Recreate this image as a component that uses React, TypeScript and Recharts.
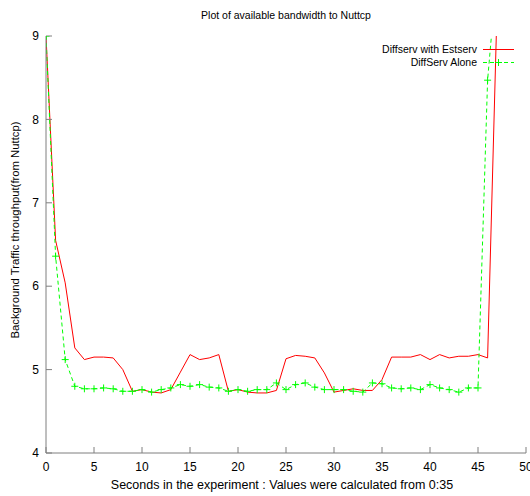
import React from 'react';
import { LineChart, Line, XAxis, YAxis } from 'recharts';

// seconds into the run
const seconds = [
  0, 1, 2, 3, 4, 5, 6, 7, 8, 9, 10, 11, 12, 13, 14, 15, 16, 17, 18, 19, 20, 21, 22, 23,
  24, 25, 26, 27, 28, 29, 30, 31, 32, 33, 34, 35, 36, 37, 38, 39, 40, 41, 42, 43, 44, 45, 46, 47,
];

// Diffserv with Estserv
const withEstserv = [
  9.0, 6.55, 6.04, 5.26, 5.12, 5.15, 5.15, 5.14, 5.0, 4.74, 4.76, 4.73, 4.72, 4.76, 4.97, 5.18,
  5.12, 5.14, 5.18, 4.74, 4.76, 4.73, 4.72, 4.72, 4.75, 5.13, 5.17, 5.16, 5.14, 4.96, 4.73, 4.75,
  4.77, 4.75, 4.75, 4.88, 5.15, 5.15, 5.15, 5.18, 5.12, 5.18, 5.14, 5.16, 5.16, 5.18, 5.14, 9.4,
];

// DiffServ Alone
const diffservAlone = [
  9.0, 6.36, 5.12, 4.8, 4.77, 4.77, 4.78, 4.77, 4.74, 4.74, 4.76, 4.73, 4.76, 4.78, 4.82, 4.8,
  4.82, 4.79, 4.78, 4.74, 4.76, 4.74, 4.76, 4.76, 4.84, 4.76, 4.82, 4.84, 4.79, 4.76, 4.76, 4.76,
  4.74, 4.73, 4.84, 4.83, 4.78, 4.77, 4.78, 4.76, 4.82, 4.78, 4.76, 4.73, 4.78, 4.78, 8.47, 9.8,
];

const xTicks = [0, 5, 10, 15, 20, 25, 30, 35, 40, 45, 50];
const yTicks = [4, 5, 6, 7, 8, 9];

const data = seconds.map((s, i) => ({ s, estserv: withEstserv[i], alone: diffservAlone[i] }));

const FONT = '"Liberation Sans", Arial, sans-serif';
const AXIS = '#7f7f7f';
const RED = '#ff0000';
const GREEN = '#00ff00';

function PlusDot(props: any) {
  const { cx, cy, index } = props;
  if (cx == null || cy == null) return <g key={`p-${index}`} />;
  return (
    <path
      key={`p-${index}`}
      d={`M${cx - 3.5},${cy}H${cx + 3.5}M${cx},${cy - 3.5}V${cy + 3.5}`}
      stroke={GREEN}
      strokeWidth={1}
      fill="none"
    />
  );
}

const tickStyle = { fill: '#000', fontSize: 12, fontFamily: FONT };

export default function App() {
  return (
    <div style={{ position: 'absolute', left: 0, top: 0, width: 530, height: 496, fontFamily: FONT }}>
      <LineChart width={530} height={496} data={data} margin={{ top: 36, right: 4, bottom: 13, left: 16 }}>
        <XAxis
          xAxisId="b"
          dataKey="s"
          type="number"
          domain={[0, 50]}
          ticks={xTicks}
          interval={0}
          height={30}
          tickSize={-6}
          tickMargin={15}
          stroke={AXIS}
          tick={tickStyle}
          allowDataOverflow
        />
        <XAxis
          xAxisId="t"
          dataKey="s"
          type="number"
          orientation="top"
          domain={[0, 50]}
          ticks={xTicks}
          interval={0}
          height={0}
          tickSize={-6}
          stroke={AXIS}
          tick={false}
          allowDataOverflow
        />
        <YAxis
          yAxisId="l"
          type="number"
          domain={[4, 9]}
          ticks={yTicks}
          interval={0}
          width={30}
          tickSize={-6}
          tickMargin={13}
          stroke={AXIS}
          tick={tickStyle}
          allowDataOverflow
        />
        <YAxis
          yAxisId="r"
          type="number"
          orientation="right"
          domain={[4, 9]}
          ticks={yTicks}
          interval={0}
          width={0}
          tickSize={-6}
          stroke={AXIS}
          tick={false}
          allowDataOverflow
        />
        <Line
          xAxisId="b"
          yAxisId="l"
          dataKey="estserv"
          stroke={RED}
          strokeWidth={1}
          dot={false}
          activeDot={false}
          type="linear"
          isAnimationActive={false}
        />
        <Line
          xAxisId="b"
          yAxisId="l"
          dataKey="alone"
          stroke={GREEN}
          strokeWidth={1}
          strokeDasharray="4 3"
          dot={PlusDot}
          activeDot={false}
          type="linear"
          isAnimationActive={false}
        />
      </LineChart>

      <div style={{ position: 'absolute', left: 46, width: 480, top: 9, textAlign: 'center', fontSize: 10.5, color: '#000' }}>
        Plot of available bandwidth to Nuttcp
      </div>
      <div style={{ position: 'absolute', left: 42, width: 480, top: 478, textAlign: 'center', fontSize: 12.5, color: '#000' }}>
        Seconds in the experiment : Values were calculated from 0:35
      </div>
      <div
        style={{
          position: 'absolute',
          left: 15,
          top: 230,
          transform: 'translate(-50%, -50%) rotate(-90deg)',
          whiteSpace: 'nowrap',
          fontSize: 11.3,
          color: '#000',
        }}
      >
        Background Traffic throughput(from Nuttcp)
      </div>

      <div style={{ position: 'absolute', top: 43, right: 15, fontSize: 10.5, color: '#000' }}>
        {[
          { name: 'Diffserv with Estserv', color: RED, dash: undefined, plus: false },
          { name: 'DiffServ Alone', color: GREEN, dash: '4 3', plus: true },
        ].map((item) => (
          <div key={item.name} style={{ display: 'flex', alignItems: 'center', justifyContent: 'flex-end', height: 13 }}>
            <span style={{ marginRight: 6, lineHeight: '13px' }}>{item.name}</span>
            <svg width={32} height={9}>
              <line x1={0} y1={4.5} x2={31} y2={4.5} stroke={item.color} strokeDasharray={item.dash} />
              {item.plus && <path d="M12,4.5H19M15.5,1V8" stroke={item.color} />}
            </svg>
          </div>
        ))}
      </div>
    </div>
  );
}
